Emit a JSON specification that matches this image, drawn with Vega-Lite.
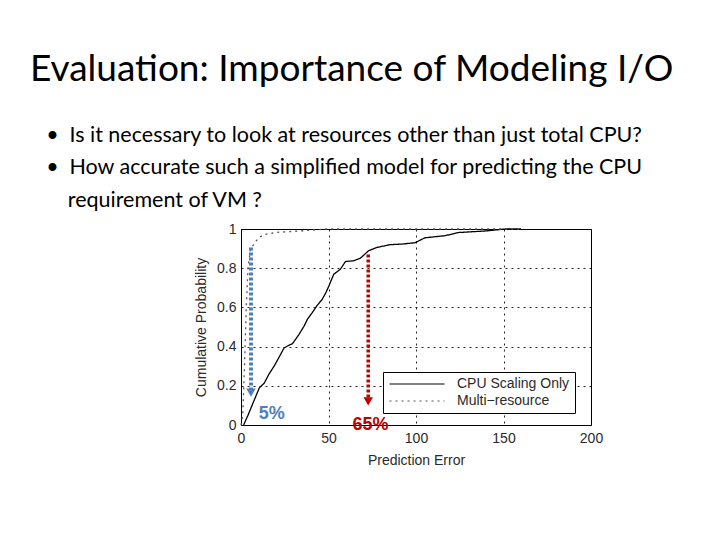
{
  "$schema": "https://vega.github.io/schema/vega-lite/v6.json",
  "autosize": "none",
  "width": 350,
  "height": 196,
  "padding": {"left": 241, "top": 229, "right": 129, "bottom": 115},
  "background": "white",
  "title": {
    "text": "Evaluation: Importance of Modeling I/O",
    "subtitle": [
      "\u200b\u2002\u00a0•\u2002Is it necessary to look at resources other than just total CPU?",
      "\u200b\u2002\u00a0•\u2002How accurate such a simplified model for predicting the CPU",
      "\u200b\u2002\u2002\u2002\u00a0requirement of VM ?"
    ],
    "anchor": "start",
    "frame": "group",
    "dx": -211,
    "offset": 10,
    "font": "Lato",
    "fontSize": 37,
    "fontWeight": "normal",
    "color": "#000000",
    "subtitleFont": "Lato",
    "subtitleFontSize": 21.5,
    "subtitleColor": "#000000",
    "subtitleLineHeight": 32.5,
    "subtitlePadding": 36
  },
  "datasets": {
    "curves": [
      {"series": "CPU Scaling Only", "err": 1.5, "prob": 0},
      {"series": "CPU Scaling Only", "err": 4, "prob": 0.05},
      {"series": "CPU Scaling Only", "err": 7.6, "prob": 0.128},
      {"series": "CPU Scaling Only", "err": 10.5, "prob": 0.19},
      {"series": "CPU Scaling Only", "err": 13.3, "prob": 0.214},
      {"series": "CPU Scaling Only", "err": 16, "prob": 0.26},
      {"series": "CPU Scaling Only", "err": 18.9, "prob": 0.3},
      {"series": "CPU Scaling Only", "err": 22, "prob": 0.35},
      {"series": "CPU Scaling Only", "err": 24.6, "prob": 0.393},
      {"series": "CPU Scaling Only", "err": 27, "prob": 0.405},
      {"series": "CPU Scaling Only", "err": 29.4, "prob": 0.415},
      {"series": "CPU Scaling Only", "err": 33, "prob": 0.46},
      {"series": "CPU Scaling Only", "err": 36, "prob": 0.504},
      {"series": "CPU Scaling Only", "err": 38, "prob": 0.54},
      {"series": "CPU Scaling Only", "err": 40.7, "prob": 0.573},
      {"series": "CPU Scaling Only", "err": 43.5, "prob": 0.61},
      {"series": "CPU Scaling Only", "err": 46.4, "prob": 0.641},
      {"series": "CPU Scaling Only", "err": 48.5, "prob": 0.675},
      {"series": "CPU Scaling Only", "err": 50.2, "prob": 0.709},
      {"series": "CPU Scaling Only", "err": 53, "prob": 0.769},
      {"series": "CPU Scaling Only", "err": 56.8, "prob": 0.795},
      {"series": "CPU Scaling Only", "err": 59.7, "prob": 0.834},
      {"series": "CPU Scaling Only", "err": 64.4, "prob": 0.838},
      {"series": "CPU Scaling Only", "err": 68.2, "prob": 0.851},
      {"series": "CPU Scaling Only", "err": 72.9, "prob": 0.889},
      {"series": "CPU Scaling Only", "err": 77.7, "prob": 0.906},
      {"series": "CPU Scaling Only", "err": 85.2, "prob": 0.92},
      {"series": "CPU Scaling Only", "err": 92, "prob": 0.923},
      {"series": "CPU Scaling Only", "err": 99.5, "prob": 0.93},
      {"series": "CPU Scaling Only", "err": 105, "prob": 0.955},
      {"series": "CPU Scaling Only", "err": 116.7, "prob": 0.966},
      {"series": "CPU Scaling Only", "err": 124.4, "prob": 0.982},
      {"series": "CPU Scaling Only", "err": 139.7, "prob": 0.99},
      {"series": "CPU Scaling Only", "err": 151, "prob": 1.0},
      {"series": "CPU Scaling Only", "err": 160, "prob": 1.0},
      {"series": "Multi\u2212resource", "err": 0, "prob": 0},
      {"series": "Multi\u2212resource", "err": 1, "prob": 0.05},
      {"series": "Multi\u2212resource", "err": 2, "prob": 0.3},
      {"series": "Multi\u2212resource", "err": 3, "prob": 0.6},
      {"series": "Multi\u2212resource", "err": 4, "prob": 0.8},
      {"series": "Multi\u2212resource", "err": 5.5, "prob": 0.9},
      {"series": "Multi\u2212resource", "err": 7.6, "prob": 0.925},
      {"series": "Multi\u2212resource", "err": 10, "prob": 0.955},
      {"series": "Multi\u2212resource", "err": 13.3, "prob": 0.972},
      {"series": "Multi\u2212resource", "err": 20.8, "prob": 0.983},
      {"series": "Multi\u2212resource", "err": 34, "prob": 0.99},
      {"series": "Multi\u2212resource", "err": 49, "prob": 1.0},
      {"series": "Multi\u2212resource", "err": 160, "prob": 1.0}
    ],
    "arrows": [
      {"name": "multi", "err": 5.7, "top": 0.905, "tip": 0.165, "label": "5%", "labelErr": 17.5, "labelProb": 0.055},
      {"name": "cpu", "err": 72.7, "top": 0.87, "tip": 0.12, "label": "65%", "labelErr": 74, "labelProb": 0.0}
    ]
  },
  "config": {
    "view": {"stroke": "#000000", "strokeWidth": 1},
    "axis": {
      "labelFont": "Liberation Sans",
      "labelFontSize": 14,
      "labelColor": "#2a2a2a",
      "labelOverlap": false,
      "labelFlush": false,
      "labelBound": false,
      "titleFont": "Liberation Sans",
      "titleFontSize": 14,
      "titleFontWeight": "normal",
      "titleColor": "#2a2a2a",
      "domain": false,
      "ticks": false,
      "grid": true,
      "gridColor": "#000000",
      "gridDash": [2, 4],
      "gridOpacity": 0.85,
      "gridWidth": 1
    },
    "legend": {
      "orient": "none",
      "legendX": 142,
      "legendY": 143,
      "strokeColor": "#000000",
      "fillColor": "white",
      "padding": 5,
      "labelFont": "Liberation Sans",
      "labelFontSize": 14,
      "labelColor": "#2a2a2a",
      "labelOffset": 33,
      "rowPadding": 3,
      "symbolType": "M-5,0H5",
      "symbolSize": 121,
      "symbolOffset": 22,
      "symbolStrokeWidth": 1.2,
      "title": null
    }
  },
  "layer": [
    {
      "data": {"name": "curves"},
      "mark": {"type": "line", "strokeWidth": 1.3},
      "encoding": {
        "x": {"field": "err", "type": "quantitative", "scale": {"domain": [0, 200], "nice": false},
              "axis": {"values": [0, 50, 100, 150, 200], "labelOverlap": false, "labelFlush": false, "title": "Prediction Error", "labelPadding": 6, "titlePadding": 8}},
        "y": {"field": "prob", "type": "quantitative", "scale": {"domain": [0, 1], "nice": false},
              "axis": {"values": [0, 0.2, 0.4, 0.6, 0.8, 1], "labelOverlap": false, "labelFlush": false, "format": "~g", "title": "Cumulative Probability", "labelPadding": 5, "titlePadding": 8}},
        "color": {"field": "series", "type": "nominal",
                  "scale": {"domain": ["CPU Scaling Only", "Multi\u2212resource"], "range": ["#000000", "#555555"]},
                  "legend": {"title": null}},
        "strokeDash": {"field": "series", "type": "nominal",
                  "scale": {"domain": ["CPU Scaling Only", "Multi\u2212resource"], "range": [[1, 0], [2, 4]]},
                  "legend": {"title": null}}
      }
    },
    {
      "data": {"name": "arrows"},
      "transform": [{"filter": "datum.name === 'multi'"}],
      "mark": {"type": "rule", "color": "#4f7fba", "strokeWidth": 4, "strokeDash": [3, 2]},
      "encoding": {
        "x": {"field": "err", "type": "quantitative", "axis": {"values": [0, 50, 100, 150, 200], "labelOverlap": false, "labelFlush": false, "title": "Prediction Error", "labelPadding": 6, "titlePadding": 8}},
        "y": {"field": "top", "type": "quantitative", "axis": {"values": [0, 0.2, 0.4, 0.6, 0.8, 1], "labelOverlap": false, "labelFlush": false, "format": "~g", "title": "Cumulative Probability", "labelPadding": 5, "titlePadding": 8}},
        "y2": {"field": "tip"}}
    },
    {
      "data": {"name": "arrows"},
      "transform": [{"filter": "datum.name === 'multi'"}],
      "mark": {"type": "point", "shape": "triangle-down", "filled": true, "color": "#4f7fba", "size": 90, "opacity": 1},
      "encoding": {
        "x": {"field": "err", "type": "quantitative", "axis": {"values": [0, 50, 100, 150, 200], "labelOverlap": false, "labelFlush": false, "title": "Prediction Error", "labelPadding": 6, "titlePadding": 8}},
        "y": {"field": "tip", "type": "quantitative", "axis": {"values": [0, 0.2, 0.4, 0.6, 0.8, 1], "labelOverlap": false, "labelFlush": false, "format": "~g", "title": "Cumulative Probability", "labelPadding": 5, "titlePadding": 8}}}
    },
    {
      "data": {"name": "arrows"},
      "transform": [{"filter": "datum.name === 'multi'"}],
      "mark": {"type": "text", "color": "#4f7fba", "font": "Liberation Sans", "fontSize": 18, "fontWeight": "bold"},
      "encoding": {
        "x": {"field": "labelErr", "type": "quantitative", "axis": {"values": [0, 50, 100, 150, 200], "labelOverlap": false, "labelFlush": false, "title": "Prediction Error", "labelPadding": 6, "titlePadding": 8}},
        "y": {"field": "labelProb", "type": "quantitative", "axis": {"values": [0, 0.2, 0.4, 0.6, 0.8, 1], "labelOverlap": false, "labelFlush": false, "format": "~g", "title": "Cumulative Probability", "labelPadding": 5, "titlePadding": 8}},
        "text": {"field": "label"}}
    },
    {
      "data": {"name": "arrows"},
      "transform": [{"filter": "datum.name === 'cpu'"}],
      "mark": {"type": "rule", "color": "#c00000", "strokeWidth": 3.5, "strokeDash": [3, 2]},
      "encoding": {
        "x": {"field": "err", "type": "quantitative", "axis": {"values": [0, 50, 100, 150, 200], "labelOverlap": false, "labelFlush": false, "title": "Prediction Error", "labelPadding": 6, "titlePadding": 8}},
        "y": {"field": "top", "type": "quantitative", "axis": {"values": [0, 0.2, 0.4, 0.6, 0.8, 1], "labelOverlap": false, "labelFlush": false, "format": "~g", "title": "Cumulative Probability", "labelPadding": 5, "titlePadding": 8}},
        "y2": {"field": "tip"}}
    },
    {
      "data": {"name": "arrows"},
      "transform": [{"filter": "datum.name === 'cpu'"}],
      "mark": {"type": "point", "shape": "triangle-down", "filled": true, "color": "#c00000", "size": 90, "opacity": 1},
      "encoding": {
        "x": {"field": "err", "type": "quantitative", "axis": {"values": [0, 50, 100, 150, 200], "labelOverlap": false, "labelFlush": false, "title": "Prediction Error", "labelPadding": 6, "titlePadding": 8}},
        "y": {"field": "tip", "type": "quantitative", "axis": {"values": [0, 0.2, 0.4, 0.6, 0.8, 1], "labelOverlap": false, "labelFlush": false, "format": "~g", "title": "Cumulative Probability", "labelPadding": 5, "titlePadding": 8}}}
    },
    {
      "data": {"name": "arrows"},
      "transform": [{"filter": "datum.name === 'cpu'"}],
      "mark": {"type": "text", "color": "#c00000", "font": "Liberation Sans", "fontSize": 18, "fontWeight": "bold"},
      "encoding": {
        "x": {"field": "labelErr", "type": "quantitative", "axis": {"values": [0, 50, 100, 150, 200], "labelOverlap": false, "labelFlush": false, "title": "Prediction Error", "labelPadding": 6, "titlePadding": 8}},
        "y": {"field": "labelProb", "type": "quantitative", "axis": {"values": [0, 0.2, 0.4, 0.6, 0.8, 1], "labelOverlap": false, "labelFlush": false, "format": "~g", "title": "Cumulative Probability", "labelPadding": 5, "titlePadding": 8}},
        "text": {"field": "label"}}
    }
  ]
}
